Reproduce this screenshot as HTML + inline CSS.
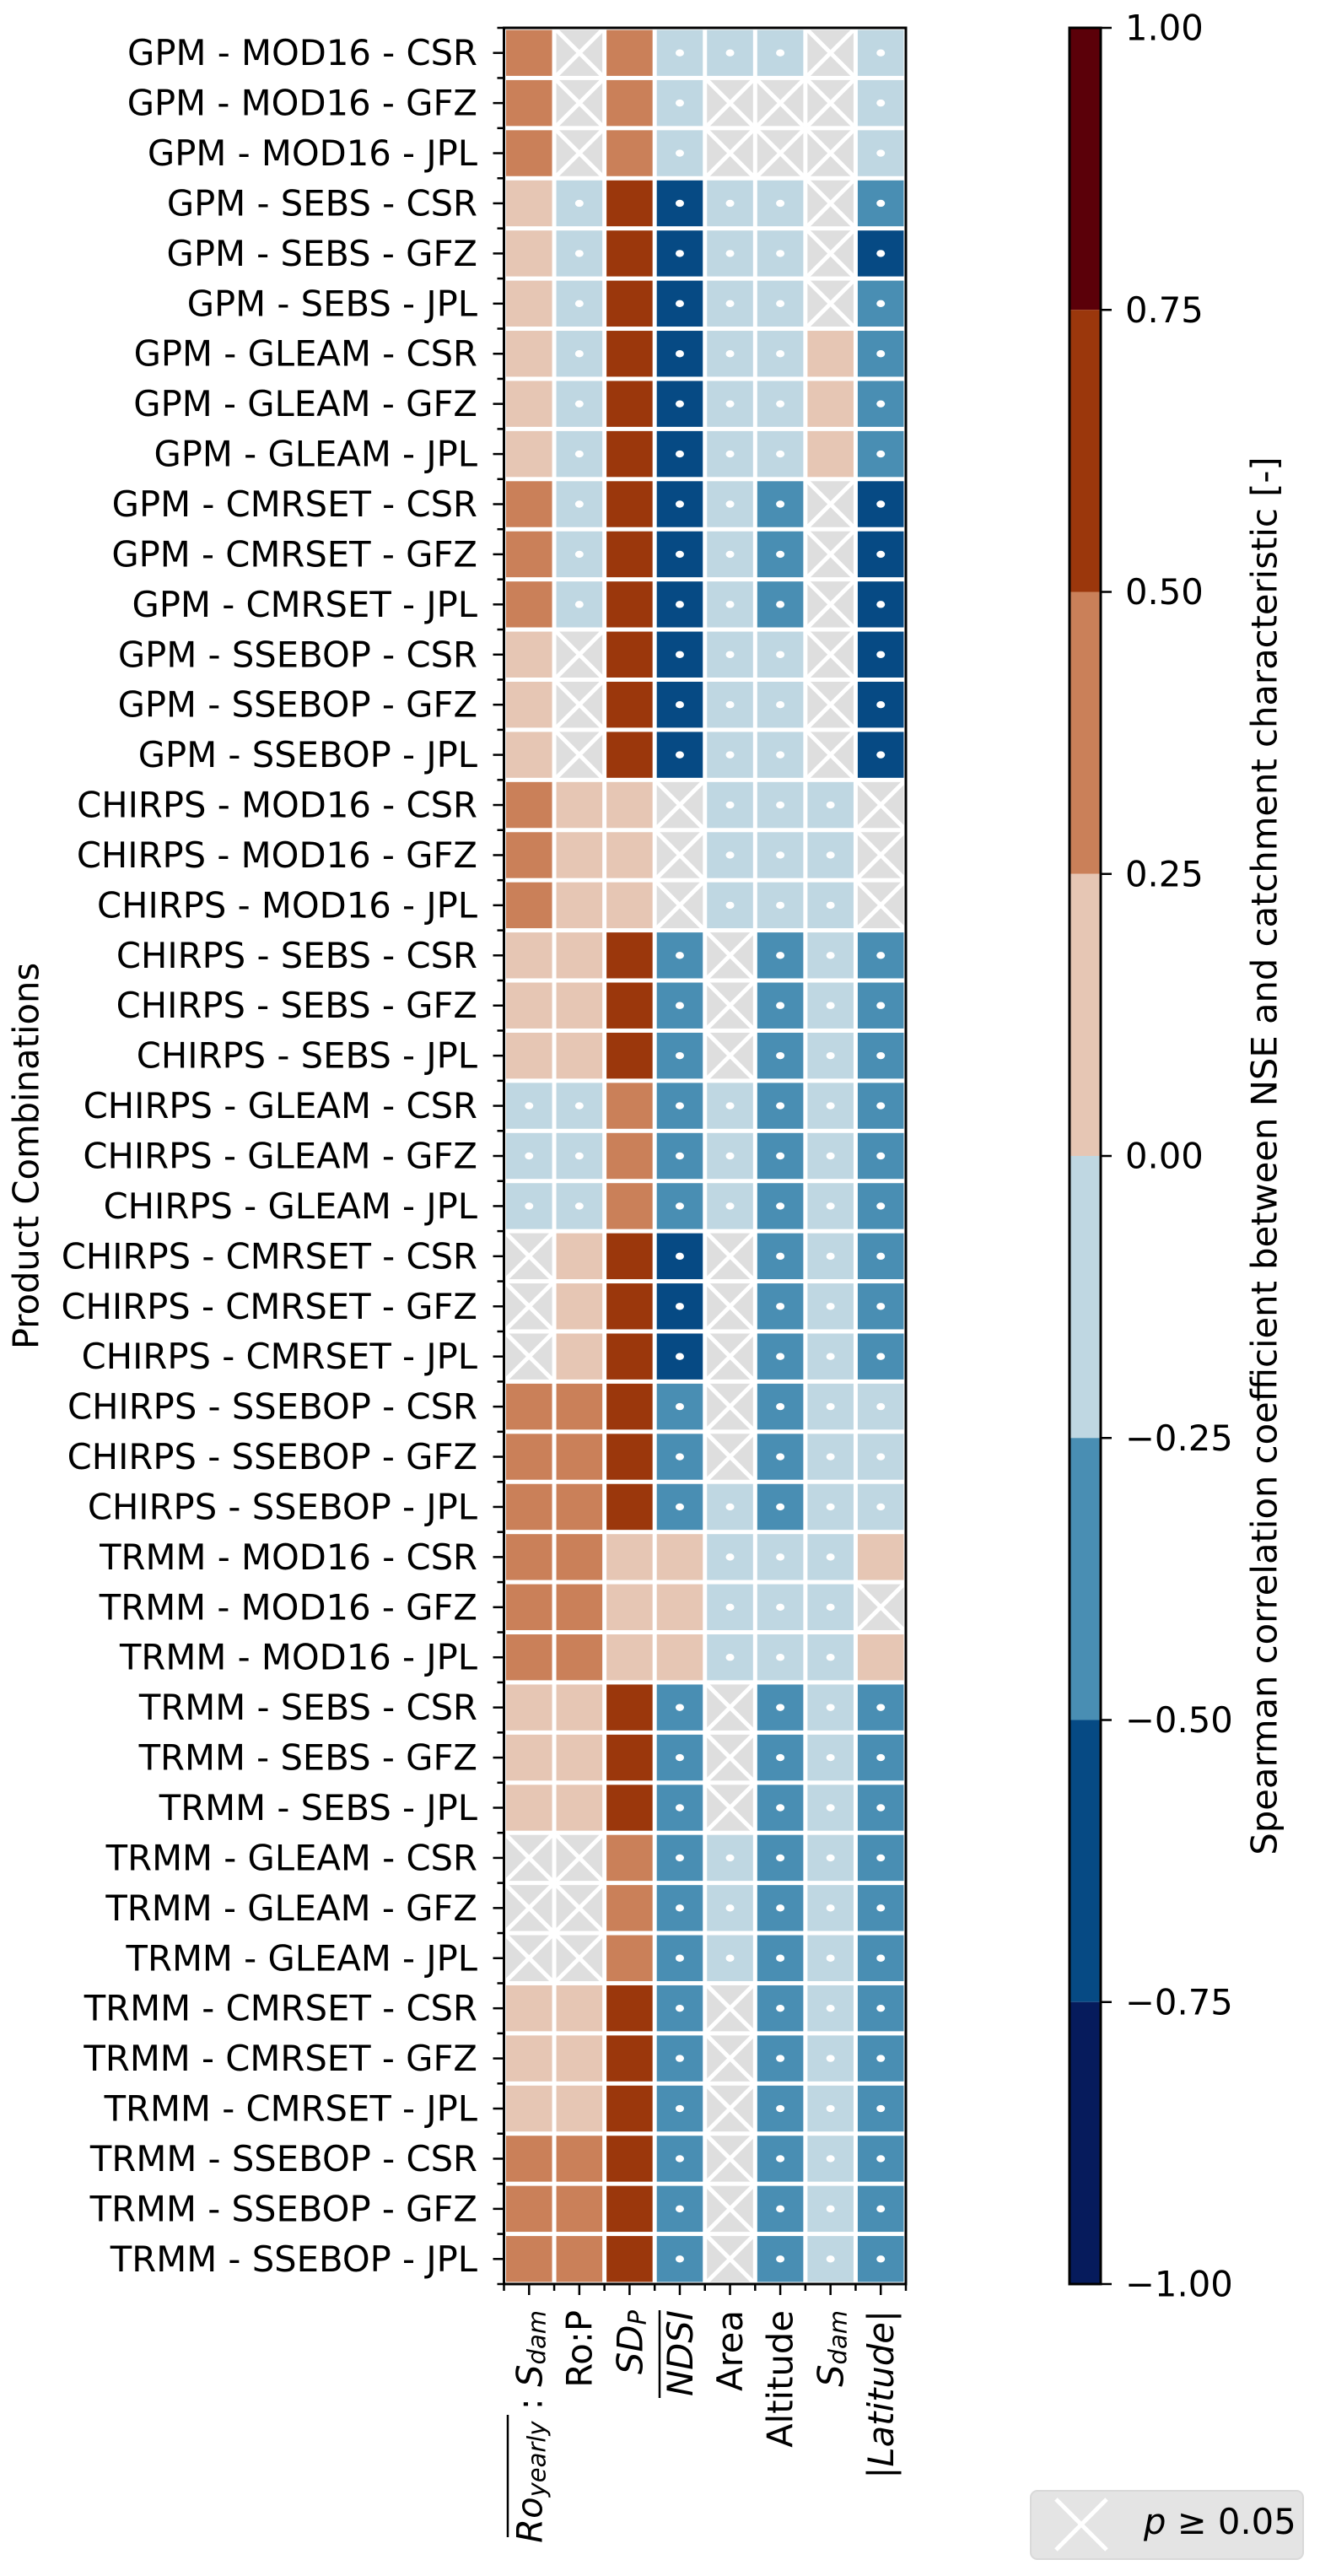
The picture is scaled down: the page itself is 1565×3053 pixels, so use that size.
<!DOCTYPE html>
<html><head><meta charset="utf-8"><style>
html,body{margin:0;padding:0;background:#fff;}
svg{display:block;font-family:"DejaVu Sans","Liberation Sans",sans-serif;}
</style></head><body>
<svg id="chart" xmlns="http://www.w3.org/2000/svg" width="1565" height="3053" viewBox="0 0 1565 3053">
<g id="cells"></g>
<g id="axes"></g>
<g id="cbar"></g>
<text transform="translate(31,1370) rotate(-90)" text-anchor="middle" dominant-baseline="central" font-size="41.7">Product Combinations</text>
<text transform="translate(1499,1370) rotate(-90)" text-anchor="middle" dominant-baseline="central" font-size="41.7">Spearman correlation coefficient between NSE and catchment characteristic [-]</text>
<g>
<rect x="1222" y="2952" width="323" height="81" rx="8" fill="#e4e4e4" stroke="#d9d9d9" stroke-width="2"/>
<line x1="1252" y1="2962" x2="1312" y2="3022" stroke="#fff" stroke-width="5"/>
<line x1="1312" y1="2962" x2="1252" y2="3022" stroke="#fff" stroke-width="5"/>
<text x="1356" y="3003" font-size="41.7"><tspan font-style="italic">p</tspan> ≥ 0.05</text>
</g>
</svg>
<script>
// Data
const precipProducts = ["GPM", "CHIRPS", "TRMM"];
const etProducts = ["MOD16", "SEBS", "GLEAM", "CMRSET", "SSEBOP"];
const graceProducts = ["CSR", "GFZ", "JPL"];
const characteristics = ["ro_sdam", "ro_p", "sdp", "ndsi", "area", "altitude", "sdam", "latitude"];
const rho = [
[0.38,0.05,0.38,-0.1,-0.1,-0.1,0.05,-0.1],
[0.38,0.05,0.38,-0.1,-0.1,0.05,0.05,-0.1],
[0.38,0.05,0.38,-0.1,-0.1,0.05,0.05,-0.1],
[0.12,-0.1,0.62,-0.6,-0.1,-0.1,0.05,-0.4],
[0.12,-0.1,0.62,-0.6,-0.1,-0.1,0.05,-0.6],
[0.12,-0.1,0.62,-0.6,-0.1,-0.1,0.05,-0.4],
[0.12,-0.1,0.62,-0.6,-0.1,-0.1,0.12,-0.4],
[0.12,-0.1,0.62,-0.6,-0.1,-0.1,0.12,-0.4],
[0.12,-0.1,0.62,-0.6,-0.1,-0.1,0.12,-0.4],
[0.38,-0.1,0.62,-0.6,-0.1,-0.4,0.05,-0.6],
[0.38,-0.1,0.62,-0.6,-0.1,-0.4,0.05,-0.6],
[0.38,-0.1,0.62,-0.6,-0.1,-0.4,0.05,-0.6],
[0.12,0.05,0.62,-0.6,-0.1,-0.1,0.05,-0.6],
[0.12,0.05,0.62,-0.6,-0.1,-0.1,0.05,-0.6],
[0.12,0.05,0.62,-0.6,-0.1,-0.1,0.05,-0.6],
[0.38,0.12,0.12,0.05,-0.1,-0.1,-0.1,0.05],
[0.38,0.12,0.12,0.05,-0.1,-0.1,-0.1,0.05],
[0.38,0.12,0.12,0.05,-0.1,-0.1,-0.1,0.05],
[0.12,0.12,0.62,-0.4,0.05,-0.4,-0.1,-0.4],
[0.12,0.12,0.62,-0.4,0.05,-0.4,-0.1,-0.4],
[0.12,0.12,0.62,-0.4,0.05,-0.4,-0.1,-0.4],
[-0.1,-0.1,0.38,-0.4,-0.1,-0.4,-0.1,-0.4],
[-0.1,-0.1,0.38,-0.4,-0.1,-0.4,-0.1,-0.4],
[-0.1,-0.1,0.38,-0.4,-0.1,-0.4,-0.1,-0.4],
[0.05,0.12,0.62,-0.6,0.05,-0.4,-0.1,-0.4],
[0.05,0.12,0.62,-0.6,0.05,-0.4,-0.1,-0.4],
[0.05,0.12,0.62,-0.6,0.05,-0.4,-0.1,-0.4],
[0.38,0.38,0.62,-0.4,0.05,-0.4,-0.1,-0.1],
[0.38,0.38,0.62,-0.4,0.05,-0.4,-0.1,-0.1],
[0.38,0.38,0.62,-0.4,-0.1,-0.4,-0.1,-0.1],
[0.38,0.38,0.12,0.12,-0.1,-0.1,-0.1,0.12],
[0.38,0.38,0.12,0.12,-0.1,-0.1,-0.1,0.05],
[0.38,0.38,0.12,0.12,-0.1,-0.1,-0.1,0.12],
[0.12,0.12,0.62,-0.4,0.05,-0.4,-0.1,-0.4],
[0.12,0.12,0.62,-0.4,0.05,-0.4,-0.1,-0.4],
[0.12,0.12,0.62,-0.4,0.05,-0.4,-0.1,-0.4],
[0.05,0.05,0.38,-0.4,-0.1,-0.4,-0.1,-0.4],
[0.05,0.05,0.38,-0.4,-0.1,-0.4,-0.1,-0.4],
[0.05,0.05,0.38,-0.4,-0.1,-0.4,-0.1,-0.4],
[0.12,0.12,0.62,-0.4,0.05,-0.4,-0.1,-0.4],
[0.12,0.12,0.62,-0.4,0.05,-0.4,-0.1,-0.4],
[0.12,0.12,0.62,-0.4,0.05,-0.4,-0.1,-0.4],
[0.38,0.38,0.62,-0.4,0.05,-0.4,-0.1,-0.4],
[0.38,0.38,0.62,-0.4,0.05,-0.4,-0.1,-0.4],
[0.38,0.38,0.62,-0.4,0.05,-0.4,-0.1,-0.4]
];
const significant = [
"10111101","10110001","10110001","11111101","11111101","11111101","11111111","11111111","11111111",
"11111101","11111101","11111101","10111101","10111101","10111101",
"11101110","11101110","11101110","11110111","11110111","11110111",
"11111111","11111111","11111111","01110111","01110111","01110111",
"11110111","11110111","11111111","11111111","11111110","11111111",
"11110111","11110111","11110111","00111111","00111111","00111111",
"11110111","11110111","11110111","11110111","11110111","11110111"
];
const cbarTicks = [1.0, 0.75, 0.5, 0.25, 0.0, -0.25, -0.5, -0.75, -1.0];
const cbarTickLabels = ["1.00","0.75","0.50","0.25","0.00","\u22120.25","\u22120.50","\u22120.75","\u22121.00"];

const NS = "http://www.w3.org/2000/svg";
const X0 = 597.5, Y0 = 33, W = 476.5, H = 2674;
const nCols = characteristics.length, nRows = rho.length;
const CW = W / nCols, RH = H / nRows;
function xPos(c){ return X0 + c * CW; }
function yPos(r){ return Y0 + r * RH; }
const CB_X = 1268, CB_W = 37, CB_T = 33, CB_B = 2707;
function cbY(v){ return CB_T + (1 - v) / 2 * (CB_B - CB_T); }
const binColors = ["#061b5c","#064a84","#498eb3","#bfd7e2","#e6c6b4","#ca8059","#9b370c","#5b0009"];
function colorOf(v){ let i = Math.floor((v + 1) / 0.25); if (i < 0) i = 0; if (i > 7) i = 7; return binColors[i]; }
function mk(tag, attrs, parent){ const e = document.createElementNS(NS, tag); for (const k in attrs) e.setAttribute(k, attrs[k]); parent.appendChild(e); return e; }

const rowLabels = [];
precipProducts.forEach(p => etProducts.forEach(e => graceProducts.forEach(g => rowLabels.push(p + " - " + e + " - " + g))));

const cells = document.getElementById("cells");
for (let r = 0; r < nRows; r++) {
  for (let c = 0; c < nCols; c++) {
    const v = rho[r][c], sig = significant[r][c] === "1";
    const x = xPos(c), y = yPos(r);
    const rect = mk("rect", {x: x + 2.5, y: y + 2.5, width: CW - 5, height: RH - 5, fill: sig ? colorOf(v) : "#dedede"}, cells);
    
    
    if (!sig) {
      const l1 = mk("line", {x1: x + 2.5, y1: y + 2.5, x2: x + CW - 2.5, y2: y + RH - 2.5, stroke: "#fff", "stroke-width": 5}, cells);
      
      
      const l2 = mk("line", {x1: x + CW - 2.5, y1: y + 2.5, x2: x + 2.5, y2: y + RH - 2.5, stroke: "#fff", "stroke-width": 5}, cells);
      
      
    } else if (v < 0) {
      const d = mk("ellipse", {cx: x + CW / 2, cy: y + RH / 2, rx: 5, ry: 4.2, fill: "#fff"}, cells);
      
      
    }
  }
}

const axes = document.getElementById("axes");
const frame = mk("rect", {x: X0, y: Y0, width: W, height: H, fill: "none", stroke: "#000", "stroke-width": 3}, axes);


for (let r = 0; r <= nRows; r++) {
  const t = mk("line", {x1: X0 - 8, y1: yPos(r), x2: X0, y2: yPos(r), stroke: "#000", "stroke-width": 2.5}, axes);
  
  
}
for (let r = 0; r < nRows; r++) {
  const yc = yPos(r) + RH / 2;
  const t = mk("line", {x1: X0 - 13, y1: yc, x2: X0, y2: yc, stroke: "#000", "stroke-width": 2.5}, axes);
  
  
  const lab = mk("text", {x: 566, y: yc, "text-anchor": "end", "dominant-baseline": "central", "font-size": 41.7}, axes);
  lab.textContent = rowLabels[r];
  
  
}
const yB = Y0 + H;
for (let c = 0; c <= nCols; c++) {
  const t = mk("line", {x1: xPos(c), y1: yB, x2: xPos(c), y2: yB + 8, stroke: "#000", "stroke-width": 2.5}, axes);
  
  
}
const xLabelHTML = [
  '<tspan font-style="italic">Ro</tspan><tspan font-style="italic" font-size="29" baseline-shift="-9">yearly</tspan><tspan> : </tspan><tspan font-style="italic">S</tspan><tspan font-style="italic" font-size="29" baseline-shift="-9">dam</tspan>',
  'Ro:P',
  '<tspan font-style="italic">SD</tspan><tspan font-style="italic" font-size="29" baseline-shift="-9">P</tspan>',
  '<tspan font-style="italic">NDSI</tspan>',
  'Area',
  'Altitude',
  '<tspan font-style="italic">S</tspan><tspan font-style="italic" font-size="29" baseline-shift="-9">dam</tspan>',
  '|<tspan font-style="italic">Latitude</tspan>|'
];
for (let c = 0; c < nCols; c++) {
  const xc = xPos(c) + CW / 2;
  const t = mk("line", {x1: xc, y1: yB, x2: xc, y2: yB + 13, stroke: "#000", "stroke-width": 2.5}, axes);
  
  
  const lab = mk("text", {transform: "translate(" + xc + ",2738) rotate(-90)", "text-anchor": "end", "dominant-baseline": "central", "font-size": 41.7}, axes);
  lab.innerHTML = xLabelHTML[c];
  
  
}
const ov1 = mk("line", {x1: 602, y1: 2862, x2: 602, y2: 3007, stroke: "#000", "stroke-width": 2.5}, axes);


const ov2 = mk("line", {x1: 782, y1: 2738, x2: 782, y2: 2842, stroke: "#000", "stroke-width": 2.5}, axes);



const cbar = document.getElementById("cbar");
for (let i = 0; i < cbarTicks.length - 1; i++) {
  const vTop = cbarTicks[i], vBot = cbarTicks[i + 1];
  const seg = mk("rect", {x: CB_X, y: cbY(vTop), width: CB_W, height: cbY(vBot) - cbY(vTop), fill: colorOf((vTop + vBot) / 2)}, cbar);
  
  
}
const cbf = mk("rect", {x: CB_X, y: CB_T, width: CB_W, height: CB_B - CB_T, fill: "none", stroke: "#000", "stroke-width": 3}, cbar);


for (let i = 0; i < cbarTicks.length; i++) {
  const yv = cbY(cbarTicks[i]);
  const t = mk("line", {x1: CB_X + CB_W, y1: yv, x2: CB_X + CB_W + 13, y2: yv, stroke: "#000", "stroke-width": 2.5}, cbar);
  
  
  const lab = mk("text", {x: 1334, y: yv, "dominant-baseline": "central", "font-size": 41.7}, cbar);
  lab.textContent = cbarTickLabels[i];
  
  
}
</script>
</body></html>
